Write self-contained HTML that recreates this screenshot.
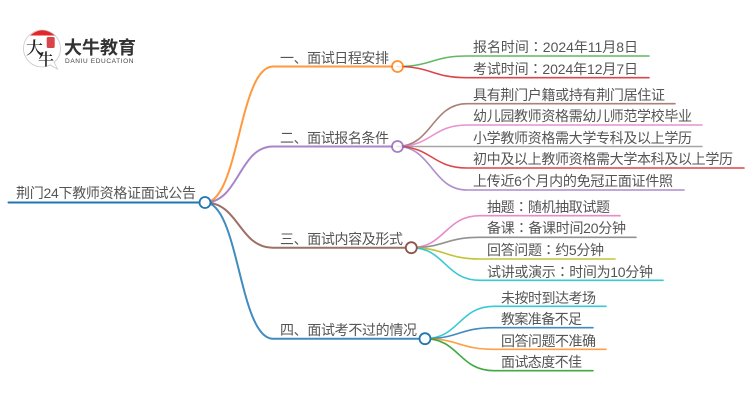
<!DOCTYPE html>
<html>
<head>
<meta charset="utf-8">
<style>
html,body{margin:0;padding:0;background:#fff;width:750px;height:410px;overflow:hidden}
svg{display:block}
text{font-family:"Liberation Sans","Noto Sans CJK SC",sans-serif;fill:#555;font-size:14px}
tspan.c{font-family:"Noto Sans CJK TC",sans-serif}
path{fill:none;stroke-linecap:round}
.l{stroke-width:1.6}
.b{stroke-width:2}
circle{fill:#fff;stroke-width:1.8}
</style>
</head>
<body>
<svg width="750" height="410" viewBox="0 0 750 410" xmlns="http://www.w3.org/2000/svg">
<defs><filter id="s" x="-5%" y="-5%" width="110%" height="110%"><feGaussianBlur stdDeviation="0.35"/></filter></defs>
<g filter="url(#s)">
<!-- logo -->
<circle cx="42" cy="48.500" r="18.500" style="fill:#fff;stroke:#c9c9c9;stroke-width:.8"/>
<path d="M50 65 L57.500 69 L54 62" style="fill:#fff;stroke:#c9c9c9;stroke-width:.8"/>
<path d="M30 35.500 Q42 25 55 35.500 Z" style="fill:#e3262c;stroke:none"/>
<rect x="46.700" y="37" width="8" height="11" rx="1.500" fill="#d8454a"/>
<text x="26" y="54" style="font-size:17px;fill:#222;font-family:'Noto Serif CJK SC',serif;font-weight:600">大</text>
<text x="38" y="65" style="font-size:16px;fill:#222;font-family:'Noto Serif CJK SC',serif;font-weight:600">牛</text>
<text x="64" y="54" textLength="72" style="font-size:18px;font-weight:700;fill:#333">大牛教育</text>
<text x="65" y="63" textLength="68.500" style="font-size:6.500px;fill:#444">DANIU EDUCATION</text>

<!-- root -->
<path d="M8.500 202.500H200" stroke="#1f77b4" class="b"/>
<!-- root to branches -->
<path d="M205 202.500C239 202.500 239 66.500 273 66.500H392" stroke="#ff7f0e" class="b" opacity=".8"/>
<path d="M205 202.500C239 202.500 239 146.500 273 146.500H392" stroke="#9467bd" class="b" opacity=".8"/>
<path d="M205 202.500C239 202.500 239 247.700 273 247.700H406" stroke="#8c564b" class="b" opacity=".85"/>
<path d="M205 202.500C239 202.500 239 338.700 273 338.700H419" stroke="#1f77b4" class="b" opacity=".85"/>

<!-- branch 1 leaves -->
<path d="M397 66.500C432 66.500 432 56 467 56H649" stroke="#2ca02c" class="l" opacity=".75"/>
<path d="M397 66.500C432 66.500 432 77.700 467 77.700H649" stroke="#d62728" class="l" opacity=".85"/>
<!-- branch 2 leaves -->
<path d="M397 146.500C432 146.500 432 103.700 467 103.700H675" stroke="#8c564b" class="l" opacity=".75"/>
<path d="M397 146.500C432 146.500 432 125 467 125H702" stroke="#e377c2" class="l" opacity=".8"/>
<path d="M397 146.500H702" stroke="#7f7f7f" class="l" opacity=".7"/>
<path d="M397 146.500C432 146.500 432 168 467 168H744" stroke="#d62728" class="l" opacity=".85"/>
<path d="M397 146.500C432 146.500 432 190 467 190H684" stroke="#9467bd" class="l" opacity=".75"/>
<!-- branch 3 leaves -->
<path d="M411 247.700C445 247.700 445 215.700 480 215.700H620" stroke="#e377c2" class="l" opacity=".85"/>
<path d="M411 247.700C445 247.700 445 237.300 480 237.300H636" stroke="#7f7f7f" class="l" opacity=".85"/>
<path d="M411 247.700C445 247.700 445 259 480 259H615" stroke="#bcbd22" class="l" opacity=".9"/>
<path d="M411 247.700C445 247.700 445 280.300 480 280.300H663" stroke="#17becf" class="l" opacity=".85"/>
<!-- branch 4 leaves -->
<path d="M425 338.700C459 338.700 459 306.300 494 306.300H606" stroke="#17becf" class="l" opacity=".85"/>
<path d="M425 338.700C459 338.700 459 327.700 494 327.700H593" stroke="#1f77b4" class="l" opacity=".85"/>
<path d="M425 338.700C459 338.700 459 349.300 494 349.300H606" stroke="#ff7f0e" class="l" opacity=".75"/>
<path d="M425 338.700C459 338.700 459 370.700 494 370.700H593" stroke="#2ca02c" class="l" opacity=".9"/>

<!-- nodes -->
<circle cx="205" cy="202.500" r="5.500" stroke="#1f77b4"/>
<circle cx="397.500" cy="66.500" r="5.500" stroke="#ff7f0e" opacity=".85"/>
<circle cx="397.500" cy="146.500" r="5.500" stroke="#9467bd" opacity=".85"/>
<circle cx="411.300" cy="247.700" r="5.500" stroke="#8c564b"/>
<circle cx="425" cy="338.700" r="5.500" stroke="#1f77b4"/>

<!-- text -->
<text x="16" y="198" textLength="180">荆门24下教师资格证面试公告</text>
<text x="280" y="63" textLength="109">一、面试日程安排</text>
<text x="280" y="143" textLength="109">二、面试报名条件</text>
<text x="280" y="244" textLength="123">三、面试内容及形式</text>
<text x="280" y="335" textLength="137">四、面试考不过的情况</text>

<text x="473" y="52" textLength="165">报名时间<tspan class="c">：</tspan>2024年11月8日</text>
<text x="473" y="74" textLength="165">考试时间<tspan class="c">：</tspan>2024年12月7日</text>
<text x="473" y="100" textLength="192">具有荆门户籍或持有荆门居住证</text>
<text x="473" y="121" textLength="219">幼儿园教师资格需幼儿师范学校毕业</text>
<text x="473" y="143" textLength="219">小学教师资格需大学专科及以上学历</text>
<text x="473" y="164" textLength="260">初中及以上教师资格需大学本科及以上学历</text>
<text x="473" y="186" textLength="200">上传近6个月内的免冠正面证件照</text>

<text x="487" y="212" textLength="123">抽题<tspan class="c">：</tspan>随机抽取试题</text>
<text x="487" y="233" textLength="139">备课<tspan class="c">：</tspan>备课时间20分钟</text>
<text x="487" y="255" textLength="117">回答问题<tspan class="c">：</tspan>约5分钟</text>
<text x="487" y="277" textLength="166">试讲或演示<tspan class="c">：</tspan>时间为10分钟</text>

<text x="501" y="303" textLength="95">未按时到达考场</text>
<text x="501" y="324" textLength="81">教案准备不足</text>
<text x="501" y="346" textLength="95">回答问题不准确</text>
<text x="501" y="367" textLength="81">面试态度不佳</text>
</g>
</svg>
</body>
</html>
